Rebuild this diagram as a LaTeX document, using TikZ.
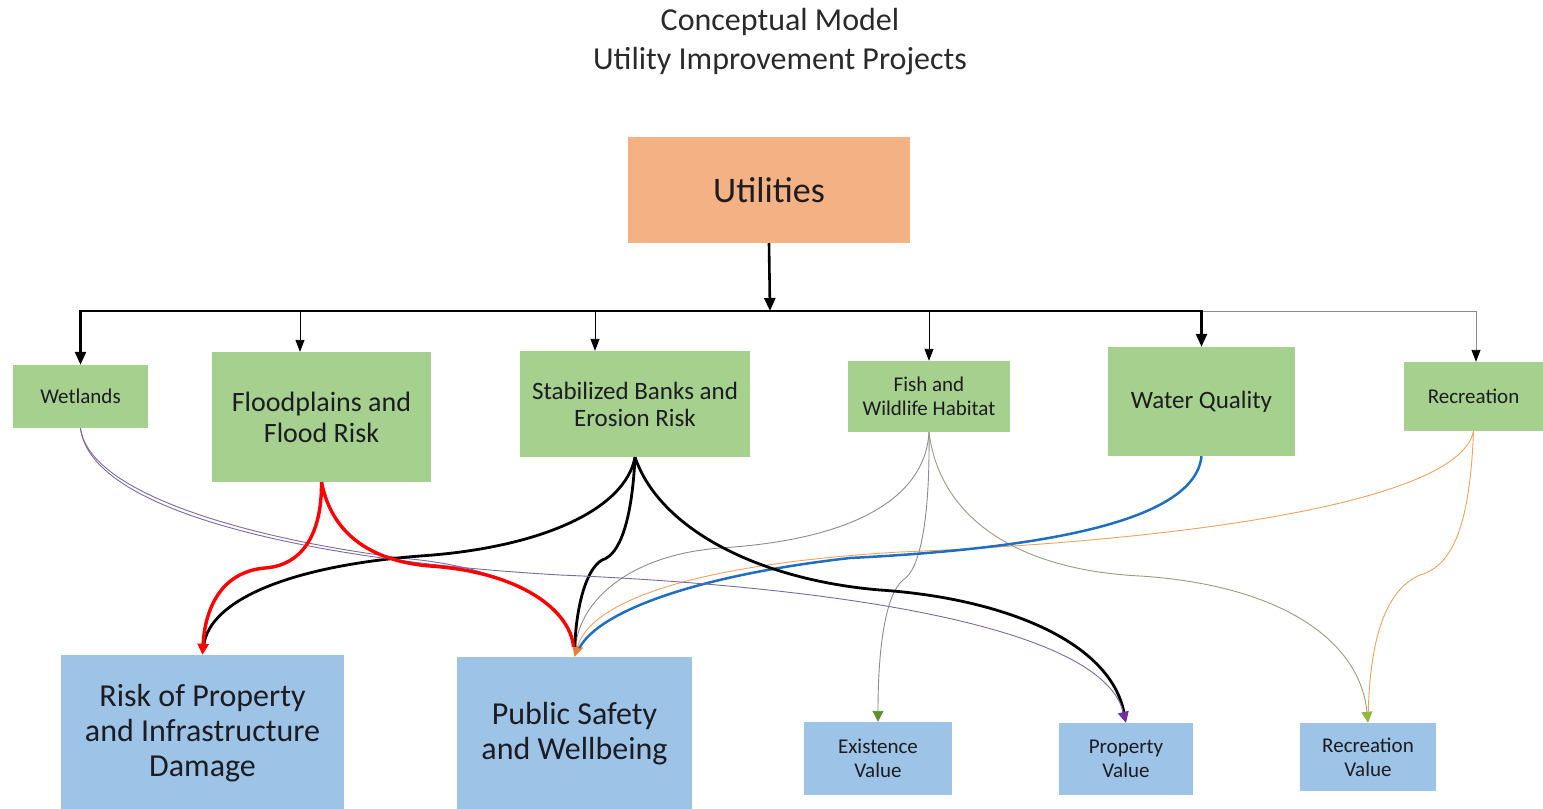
\documentclass[tikz,border=0pt]{standalone}
\usepackage{fontspec}
\setmainfont{Carlito}
\usetikzlibrary{arrows.meta}

\definecolor{boxgreen}{HTML}{A6D08D}
\definecolor{boxblue}{HTML}{9DC3E6}
\definecolor{boxorange}{HTML}{F4B183}
\definecolor{txt}{HTML}{1C1C22}
\definecolor{titletxt}{HTML}{2A2A2A}
\definecolor{linkred}{HTML}{FF0000}
\definecolor{linkblue}{HTML}{1F6FC0}
\definecolor{linkpurple}{HTML}{7A6A9E}
\definecolor{tippurple}{HTML}{7030A0}
\definecolor{linkgray}{HTML}{8C8C8C}
\definecolor{linkolive}{HTML}{9A9A80}
\definecolor{linkorange}{HTML}{F0A060}
\definecolor{tiporange}{HTML}{ED7D31}
\definecolor{tipgreen}{HTML}{5E8F2C}
\definecolor{tiplime}{HTML}{92B83C}

\newcommand{\setfs}[2]{\fontsize{#1}{#2}\selectfont}

\tikzset{
  box/.style={draw=none, align=center, inner sep=0pt, text=txt},
  gbox/.style={box, fill=boxgreen},
  bbox/.style={box, fill=boxblue},
  obox/.style={box, fill=boxorange},
  busthick/.style={line width=2.6pt, black},
  busthin/.style={line width=0.9pt, black},
  bigtip/.style={-{Triangle[length=13pt,width=11pt]}},
  smalltip/.style={-{Triangle[length=12pt,width=9pt,#1]}},
  smalltip/.default={},
  thinlink/.style={line width=0.9pt},
  thicklink/.style={line width=2.8pt, black},
  redlink/.style={line width=3.4pt, linkred},
  bluelink/.style={line width=2.5pt, linkblue},
  endtip/.style={-{Triangle[length=11pt,width=11pt,#1]}},
  intotip/.style={shorten >=10pt}
}

\begin{document}
\begin{tikzpicture}[x=1pt,y=-1pt]
\useasboundingbox (0,0) rectangle (1543,809);

% heading
\node[text=titletxt, font=\setfs{32}{36}] (t1) at (780,22) {Conceptual Model};
\node[text=titletxt, font=\setfs{32}{36}] (t2) at (780,61) {Utility Improvement Projects};

% source
\node[obox, minimum width=282pt, minimum height=106pt, font=\setfs{36}{40}] (util) at (769,190) {Utilities};

% intermediate outcomes
\node[gbox, minimum width=135pt, minimum height=63pt, font=\setfs{21}{24}] (wet) at (80.5,396.5) {Wetlands};
\node[gbox, minimum width=219pt, minimum height=130pt, font=\setfs{28}{31}] (flood) at (321.5,417) {Floodplains and\\Flood Risk};
\node[gbox, minimum width=230pt, minimum height=106pt, font=\setfs{25}{27}] (stab) at (635,404) {Stabilized Banks and\\Erosion Risk};
\node[gbox, minimum width=162pt, minimum height=71pt, font=\setfs{21}{24}] (fish) at (929,396.5) {Fish and\\Wildlife Habitat};
\node[gbox, minimum width=187pt, minimum height=109pt, font=\setfs{25}{28}] (wq) at (1201.5,401.5) {Water Quality};
\node[gbox, minimum width=139pt, minimum height=69pt, font=\setfs{21}{24}] (rec) at (1473.5,396.5) {Recreation};

% end values
\node[bbox, minimum width=283pt, minimum height=156pt, font=\setfs{32}{35}] (risk) at (202.5,733) {Risk of Property\\and Infrastructure\\Damage};
\node[bbox, minimum width=235pt, minimum height=154pt, font=\setfs{32}{35}] (ps) at (574.5,734) {Public Safety\\and Wellbeing};
\node[bbox, minimum width=148pt, minimum height=73pt, font=\setfs{21}{24}] (exist) at (878,758.5) {Existence\\Value};
\node[bbox, minimum width=134pt, minimum height=72pt, font=\setfs{21}{24}] (prop) at (1126,759) {Property\\Value};
\node[bbox, minimum width=136pt, minimum height=68pt, font=\setfs{21}{24}] (recv) at (1368,757) {Recreation\\Value};

% distribution bus under the source box
\coordinate (bus) at (770,311);
\draw[busthin, linkgray, smalltip={fill=black,color=black}] (bus) -| ([xshift=2.5pt]rec.north);
\draw[busthin, smalltip] (bus) -| ([xshift=-21.5pt]flood.north);
\draw[busthin, smalltip] (bus) -| ([xshift=-40pt]stab.north);
\draw[busthin, smalltip] (bus) -| (fish.north);
\draw[busthick, bigtip] (bus) -| (wet.north);
\draw[busthick, bigtip] (bus) -| (wq.north);
\draw[busthick, bigtip] (util.south) -- (bus);

% links into Public Safety and Wellbeing (orange tip stays on top)
\draw[thinlink, linkorange, endtip={fill=tiporange,color=tiporange}] (rec.south)
  .. controls (1460,500) and (1200,540) .. (900,552)
  .. controls (680,565) and (590,605) .. (ps.north);
\draw[thinlink, linkpurple, intotip] (wet.south)
  .. controls (90,500) and (280,545) .. (420,560)
  .. controls (520,572) and (570,610) .. (ps.north);
\draw[thinlink, linkgray, intotip] (fish.south)
  .. controls (925,500) and (850,540) .. (720,548)
  .. controls (630,555) and (580,600) .. (ps.north);

% links from Fish and Wildlife Habitat
\draw[thinlink, linkgray, endtip={fill=tipgreen,color=tipgreen}] (fish.south)
  .. controls (930,520) and (920,570) .. (903,580)
  .. controls (885,595) and (878,650) .. (exist.north);
\draw[thinlink, linkolive, endtip={fill=tiplime,color=tiplime}] (fish.south)
  .. controls (940,520) and (1020,570) .. (1140,576)
  .. controls (1280,585) and (1360,640) .. (recv.north);

% link from Recreation to Recreation Value
\draw[thinlink, linkorange, intotip] (rec.south)
  .. controls (1470,520) and (1455,565) .. (1420,575)
  .. controls (1385,590) and (1370,640) .. (recv.north);

% Water Quality to Public Safety
\draw[bluelink, intotip] (wq.south)
  .. controls (1195,520) and (1050,548) .. (850,558)
  .. controls (700,575) and (600,610) .. (ps.north);

% Stabilized Banks links
\draw[thicklink, intotip] (stab.south)
  .. controls (625,510) and (540,548) .. (420,556)
  .. controls (290,566) and (210,600) .. (risk.north);
\draw[thicklink, intotip] (stab.south)
  .. controls (632,520) and (620,555) .. (602,560)
  .. controls (585,570) and (576,610) .. (ps.north);
\draw[thicklink, intotip] (stab.south)
  .. controls (660,530) and (760,580) .. (880,590)
  .. controls (1000,598) and (1110,640) .. (prop.north);

% Wetlands to Property Value
\draw[thinlink, linkpurple, endtip={fill=tippurple,color=tippurple}] (wet.south)
  .. controls (90,510) and (300,560) .. (560,575)
  .. controls (800,585) and (1100,620) .. (prop.north);

% Floodplains links
\draw[redlink, intotip] (flood.south)
  .. controls (330,525) and (360,560) .. (430,566)
  .. controls (520,572) and (570,610) .. (ps.north);
\draw[redlink, endtip={fill=linkred,color=linkred}] (flood.south)
  .. controls (322,530) and (305,565) .. (265,568)
  .. controls (220,572) and (205,610) .. (risk.north);

\end{tikzpicture}
\end{document}
